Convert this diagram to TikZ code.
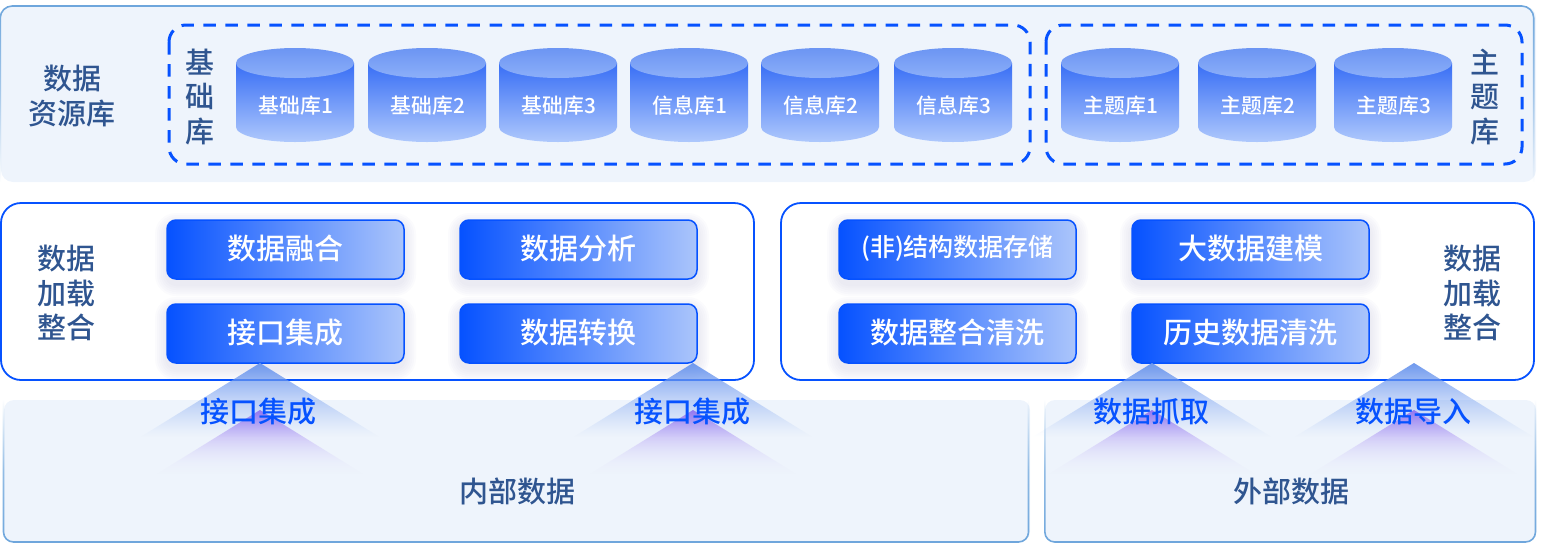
\documentclass[tikz,border=0pt]{standalone}
\usepackage{fontspec}
\setmainfont{Noto Sans CJK SC Medium}
\usetikzlibrary{fadings}
\definecolor{dark}{HTML}{2F5590}
\definecolor{brand}{HTML}{0652FF}
\definecolor{panel}{HTML}{EEF4FC}
\definecolor{edgeblue}{HTML}{6EA6DC}
\definecolor{HL}{HTML}{ABC5FB}
\definecolor{cylA}{HTML}{386EF5}
\definecolor{cylB}{HTML}{AEC8FC}
\definecolor{capA}{HTML}{6C95F3}
\definecolor{capB}{HTML}{8CAFF9}
\definecolor{HT}{HTML}{6D98EE}
\definecolor{HP}{HTML}{8F6CF0}
\tikzfading[name=fadeEdgeDown,top color=transparent!0,bottom color=transparent!100,middle color=transparent!40]
\tikzfading[name=fadeEdgeUp,bottom color=transparent!0,top color=transparent!100,middle color=transparent!25]
\tikzset{
  txtL/.style={font=\fontsize{29}{34.5}\selectfont,text=dark,align=center,inner sep=0pt},
  txtB/.style={font=\fontsize{29}{34}\selectfont,text=brand,inner sep=0pt},
  txtW/.style={font=\fontsize{29}{34}\selectfont,text=white,inner sep=0pt},
  txtC/.style={font=\fontsize{20.8}{24}\selectfont,text=white,inner sep=0pt},
  dashbox/.style={draw=brand,line width=3pt,dash pattern=on 12.5pt off 9.5pt,rounded corners=17pt},
  midbox/.style={draw=brand,line width=1.8pt,fill=white,rounded corners=20pt},
  gradbox/.style={draw=brand,line width=1.5pt,rounded corners=9pt,left color=brand,right color=HL},
}
\newcommand{\cyl}[3]{%
  \shade[top color=cylA,bottom color=cylB]
    (#1,63) -- (#1+118,63) -- (#1+118,127) arc[start angle=0,end angle=-180,x radius=59pt,y radius=15pt] -- cycle;
  \shade[top color=capA,bottom color=capB] (#1+59,63) ellipse[x radius=59pt,y radius=15pt];
  \node[txtC] (#2) at (#1+60,105.5) {#3};
}
\newcommand{\softbox}[6]{%
  \foreach \g/\r in {12/21,10/19,8/17,6/15,4/13,2/11}{
    \fill[black!45!blue!55!gray,opacity=.016,rounded corners=\r pt]
      (#1-\g,#2+5-\g) rectangle (#3+\g,#4+5+\g);
  }
  \node[gradbox,minimum width=#3pt-#1pt,minimum height=#4pt-#2pt,inner sep=0pt,outer sep=0pt,anchor=north west] (#5) at (#1,#2) {};
  \node[txtW] at ([yshift=1.2pt]#5.center) {#6};
}
% apex x, apex y, colour, height, peak opacity, exponent
\newcommand{\arrowhead}[6]{%
  \begin{scope}
    \clip (#1-1.615*#4,#2+#4) -- (#1,#2) -- (#1+1.615*#4,#2+#4) -- cycle;
    \foreach \i in {0,...,#4}{
      \pgfmathsetmacro\opc{#5*(1-\i/#4)^#6}
      \fill[color=#3,opacity=\opc] (#1-140,#2+\i) rectangle (#1+140,#2+\i+1);
    }
  \end{scope}
}
\begin{document}
\begin{tikzpicture}[x=1pt,y=-1pt]
\useasboundingbox (0,0) rectangle (1552,544);
% top panel
\fill[panel,rounded corners=12pt] (1,6) rectangle (1536,182);
\draw[edgeblue,line width=1.6pt,rounded corners=12pt,path fading=fadeEdgeDown] (1,182) -- (1,6) -- (1536,6) -- (1536,182);
\node[txtL] (lblRes) at (72,96) {数据\\资源库};
\draw[dashbox] (169,25) rectangle (1030,164);
\draw[dashbox] (1046,25) rectangle (1522,164);
\node[txtL] (lblBase) at (200,97) {基\\础\\库};
\node[txtL] (lblTheme) at (1485,97) {主\\题\\库};
\cyl{236}{c1}{基础库1}
\cyl{368}{c2}{基础库2}
\cyl{499}{c3}{基础库3}
\cyl{630}{c4}{信息库1}
\cyl{761}{c5}{信息库2}
\cyl{894}{c6}{信息库3}
\cyl{1061}{c7}{主题库1}
\cyl{1198}{c8}{主题库2}
\cyl{1334}{c9}{主题库3}
% middle
\draw[midbox] (1,203) rectangle (754,380);
\draw[midbox] (781,203) rectangle (1534,380);
\node[txtL] (lblL) at (66,293) {数据\\加载\\整合};
\node[txtL] (lblR) at (1472,293) {数据\\加载\\整合};
% bottom panels
\fill[panel,rounded corners=10pt] (4,400) rectangle (1030,542);
\fill[panel,rounded corners=10pt] (1045,400) rectangle (1536,542);
\draw[edgeblue,line width=1.6pt,rounded corners=10pt,path fading=fadeEdgeUp] (4,400) -- (4,542) -- (1030,542) -- (1030,400);
\draw[edgeblue,line width=1.6pt,rounded corners=10pt,path fading=fadeEdgeUp] (1045,400) -- (1045,542) -- (1536,542) -- (1536,400);
% boxes
\softbox{167}{220}{404}{279}{b1}{数据融合}
\softbox{460}{220}{697}{279}{b2}{数据分析}
\softbox{167}{304}{404}{363}{b3}{接口集成}
\softbox{460}{304}{697}{363}{b4}{数据转换}
\softbox{839}{220}{1076}{279}{b5}{\fontsize{25}{28}\selectfont (非)结构数据存储}
\softbox{1132}{220}{1369}{279}{b6}{大数据建模}
\softbox{839}{304}{1076}{363}{b7}{数据整合清洗}
\softbox{1132}{304}{1369}{363}{b8}{历史数据清洗}
% arrows
\foreach \ax in {260,693,1152,1414}{
  \arrowhead{\ax}{363}{HT}{74}{0.98}{1.25}
  \arrowhead{\ax}{410}{HP}{68}{0.9}{2.2}
}
\node[txtB] (a1) at (258,412) {接口集成};
\node[txtB] (a2) at (692,412) {接口集成};
\node[txtB] (a3) at (1151,412) {数据抓取};
\node[txtB] (a4) at (1413,412) {数据导入};
\node[txtL] (inn) at (517,491) {内部数据};
\node[txtL] (out) at (1291,491) {外部数据};
\end{tikzpicture}
\end{document}
